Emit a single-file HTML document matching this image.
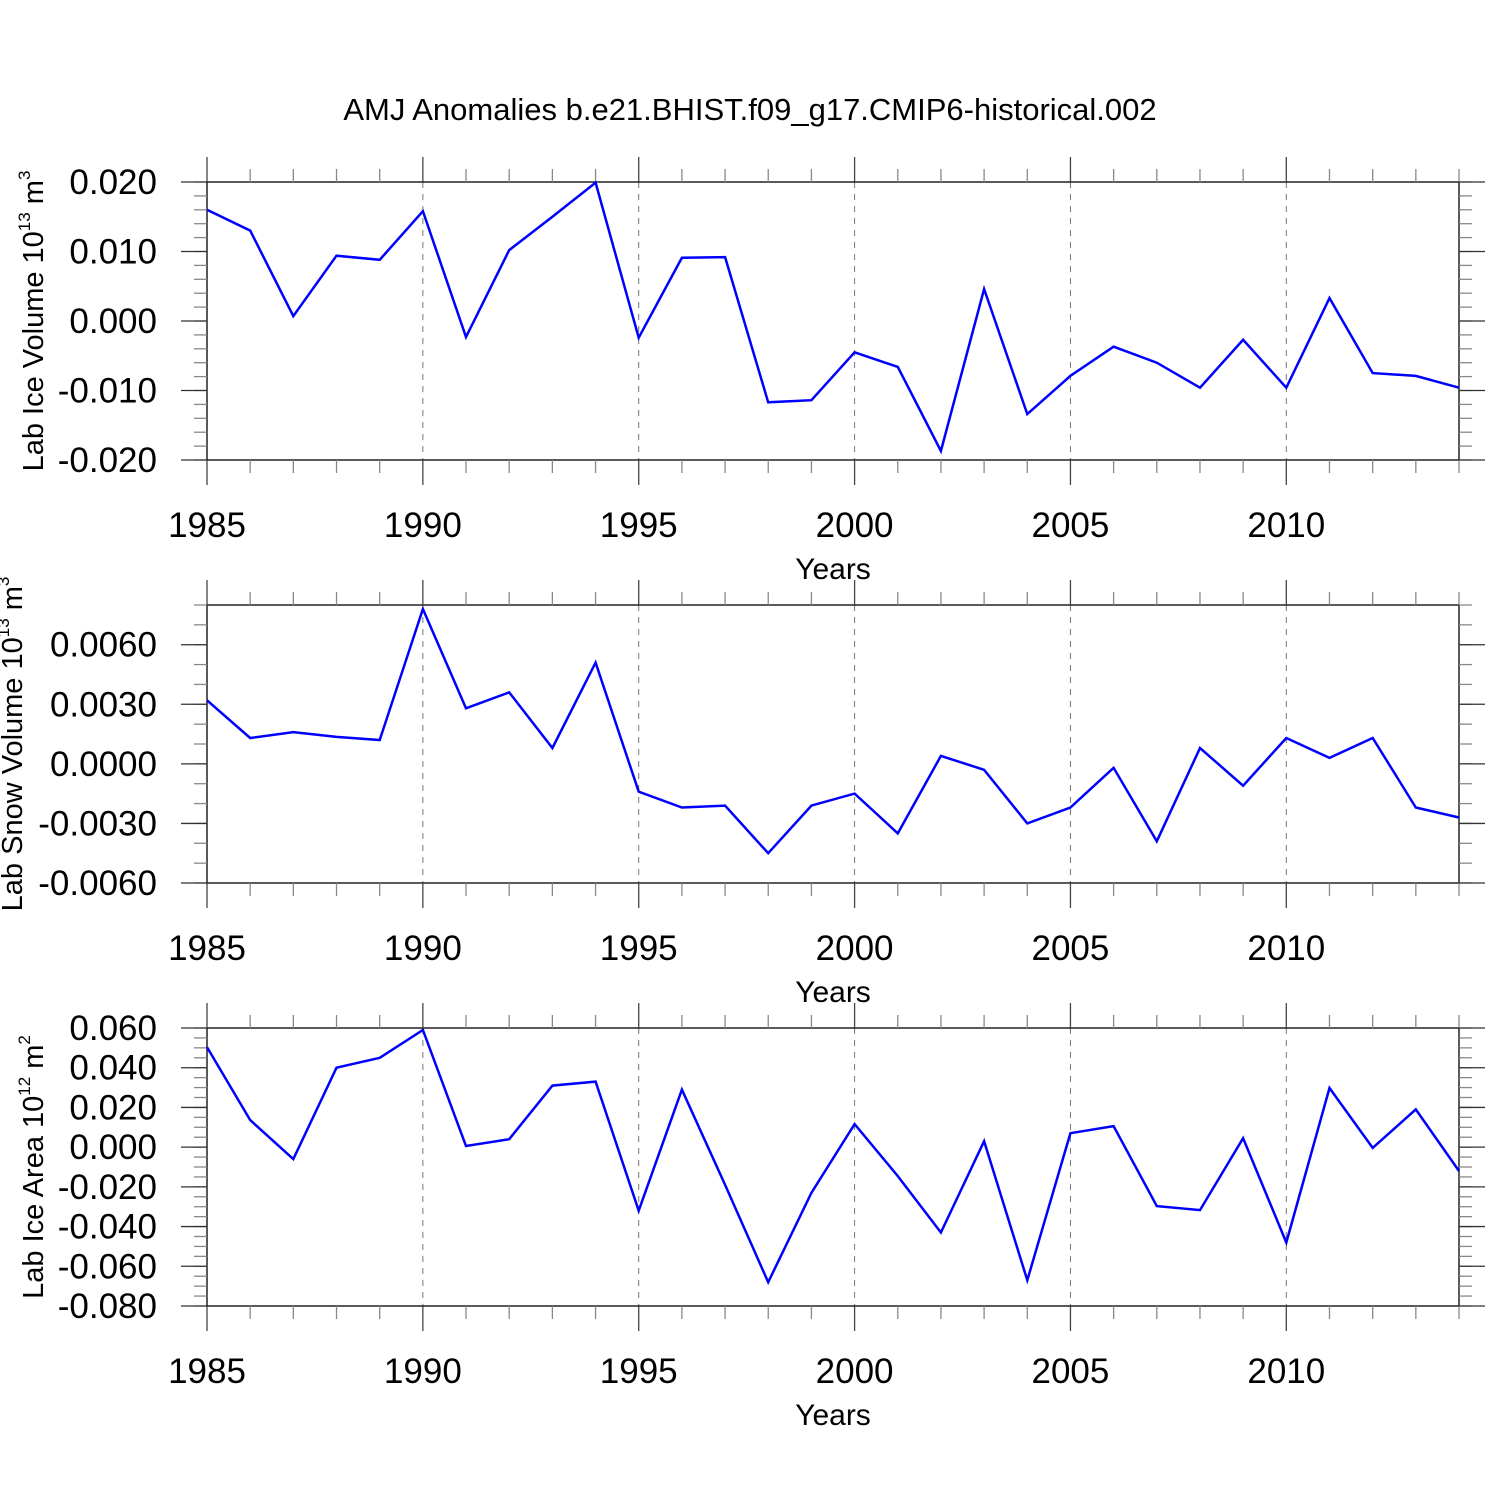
<!DOCTYPE html>
<html><head><meta charset="utf-8"><style>
body{margin:0;background:#fff}
svg{display:block;font-family:"Liberation Sans",sans-serif}
</style></head><body>
<svg id="chart" width="1500" height="1500" viewBox="0 0 1500 1500">
<text x="750" y="120" text-anchor="middle" font-size="31">AMJ Anomalies b.e21.BHIST.f09_g17.CMIP6-historical.002</text>
</svg>
<script>
const years = [];
for (let y = 1985; y <= 2014; y++) years.push(y);
const iceVolume = [0.016,0.013,0.0007,0.0094,0.0088,0.0158,-0.0023,0.0102,0.0150,0.0199,-0.0024,0.0091,0.0092,-0.0117,-0.0114,-0.0045,-0.0066,-0.0187,0.0046,-0.0134,-0.0079,-0.0037,-0.0060,-0.0096,-0.0027,-0.0096,0.0033,-0.0075,-0.0079,-0.0096];
const snowVolume = [0.0032,0.0013,0.0016,0.00136,0.0012,0.0078,0.0028,0.0036,0.0008,0.0051,-0.0014,-0.0022,-0.0021,-0.0045,-0.0021,-0.0015,-0.0035,0.0004,-0.0003,-0.0030,-0.0022,-0.0002,-0.0039,0.0008,-0.0011,0.0013,0.0003,0.0013,-0.0022,-0.0027];
const iceArea = [0.0504,0.0136,-0.006,0.040,0.045,0.059,0.0006,0.004,0.031,0.033,-0.032,0.029,-0.019,-0.068,-0.023,0.0116,-0.0146,-0.043,0.003,-0.067,0.007,0.0106,-0.0297,-0.0317,0.0045,-0.048,0.0298,-0.0004,0.019,-0.012];
const xTickLabels = [1985,1990,1995,2000,2005,2010];
const iceVolTicks = ["0.020","0.010","0.000","-0.010","-0.020"];
const snowTicks = ["0.0060","0.0030","0.0000","-0.0030","-0.0060"];
const areaTicks = ["0.060","0.040","0.020","0.000","-0.020","-0.040","-0.060","-0.080"];

const NS = "http://www.w3.org/2000/svg";
const svg = document.getElementById('chart');
const X0 = 207, X1 = 1459;
function xs(yr){ return X0 + (yr-1985)/(2014-1985)*(X1-X0); }
function mk(tag, attrs, parent){ const e=document.createElementNS(NS,tag); for(const k in attrs) e.setAttribute(k,attrs[k]); (parent||svg).appendChild(e); return e; }

const panels = [
 {name:'ice-volume', top:182, bot:460, vmin:-0.020, vmax:0.020, major:0.010, minor:0.002, ticks:iceVolTicks, data:iceVolume, title:'Lab Ice Volume 10', exp:'13', unit:'m', uexp:'3', tx:43},
 {name:'snow-volume', top:605, bot:883, vmin:-0.006, vmax:0.008, major:0.003, minor:0.001, ticks:snowTicks, data:snowVolume, title:'Lab Snow Volume 10', exp:'13', unit:'m', uexp:'3', tx:22},
 {name:'ice-area', top:1028, bot:1306, vmin:-0.080, vmax:0.060, major:0.020, minor:0.005, ticks:areaTicks, data:iceArea, title:'Lab Ice Area 10', exp:'12', unit:'m', uexp:'2', tx:43},
];

panels.forEach(p=>{
  const g = mk('g',{});
  
  
  const ys = v => p.bot - (v-p.vmin)/(p.vmax-p.vmin)*(p.bot-p.top);
  xTickLabels.forEach(yr=>{
    if (yr===1985) return;
    const l = mk('line',{x1:xs(yr),x2:xs(yr),y1:p.top,y2:p.bot,stroke:'#777','stroke-width':1,'stroke-dasharray':'6,6'},g);
    
    
  });
  const fr = mk('rect',{x:X0,y:p.top,width:X1-X0,height:p.bot-p.top,fill:'none',stroke:'#000','stroke-width':1.3},g);
  
  
  years.forEach(yr=>{
    const x = xs(yr);
    const maj = xTickLabels.includes(yr);
    const len = maj ? 25 : 13;
    mk('line',{x1:x,x2:x,y1:p.top-len,y2:p.top,stroke:maj?'#444':'#888','stroke-width':1.3},g);
    mk('line',{x1:x,x2:x,y1:p.bot,y2:p.bot+len,stroke:maj?'#444':'#888','stroke-width':1.3},g);
  });
  xTickLabels.forEach(yr=>{
    const t = mk('text',{x:xs(yr),y:p.bot+77,'text-anchor':'middle','font-size':35},g);
    t.textContent = yr;
    
    
  });
  const xt = mk('text',{x:833,y:p.bot+119,'text-anchor':'middle','font-size':30},g);
  xt.textContent = 'Years';
  
  
  const nMin = Math.round((p.vmax-p.vmin)/p.minor);
  for (let i=0;i<=nMin;i++){
    const v = p.vmin + i*p.minor;
    const y = ys(v);
    mk('line',{x1:X0-13,x2:X0,y1:y,y2:y,stroke:'#888','stroke-width':1.3},g);
    mk('line',{x1:X1,x2:X1+13,y1:y,y2:y,stroke:'#888','stroke-width':1.3},g);
  }
  p.ticks.forEach(lab=>{
    const v = parseFloat(lab);
    const y = ys(v);
    mk('line',{x1:X0-26,x2:X0,y1:y,y2:y,stroke:'#333','stroke-width':1.3},g);
    mk('line',{x1:X1,x2:X1+26,y1:y,y2:y,stroke:'#333','stroke-width':1.3},g);
    const t = mk('text',{x:157,y:y+12,'text-anchor':'end','font-size':35},g);
    t.textContent = lab;
    
    
  });
  const cy = (p.top+p.bot)/2;
  const yt = mk('text',{x:0,y:0,'text-anchor':'middle','font-size':29,transform:`translate(${p.tx},${cy}) rotate(-90)`},g);
  
  
  const s1 = mk('tspan',{},yt); s1.textContent = p.title;
  const s2 = mk('tspan',{dy:-13,'font-size':17},yt); s2.textContent = p.exp;
  const s3 = mk('tspan',{dy:13},yt); s3.textContent = ' '+p.unit;
  const s4 = mk('tspan',{dy:-13,'font-size':17},yt); s4.textContent = p.uexp;
  const pts = p.data.map((v,i)=>xs(years[i]).toFixed(1)+','+ys(v).toFixed(1)).join(' ');
  const pl = mk('polyline',{points:pts,fill:'none',stroke:'#0000ff','stroke-width':2.5,'stroke-linejoin':'miter'},g);
  
  
});
</script>
</body></html>
